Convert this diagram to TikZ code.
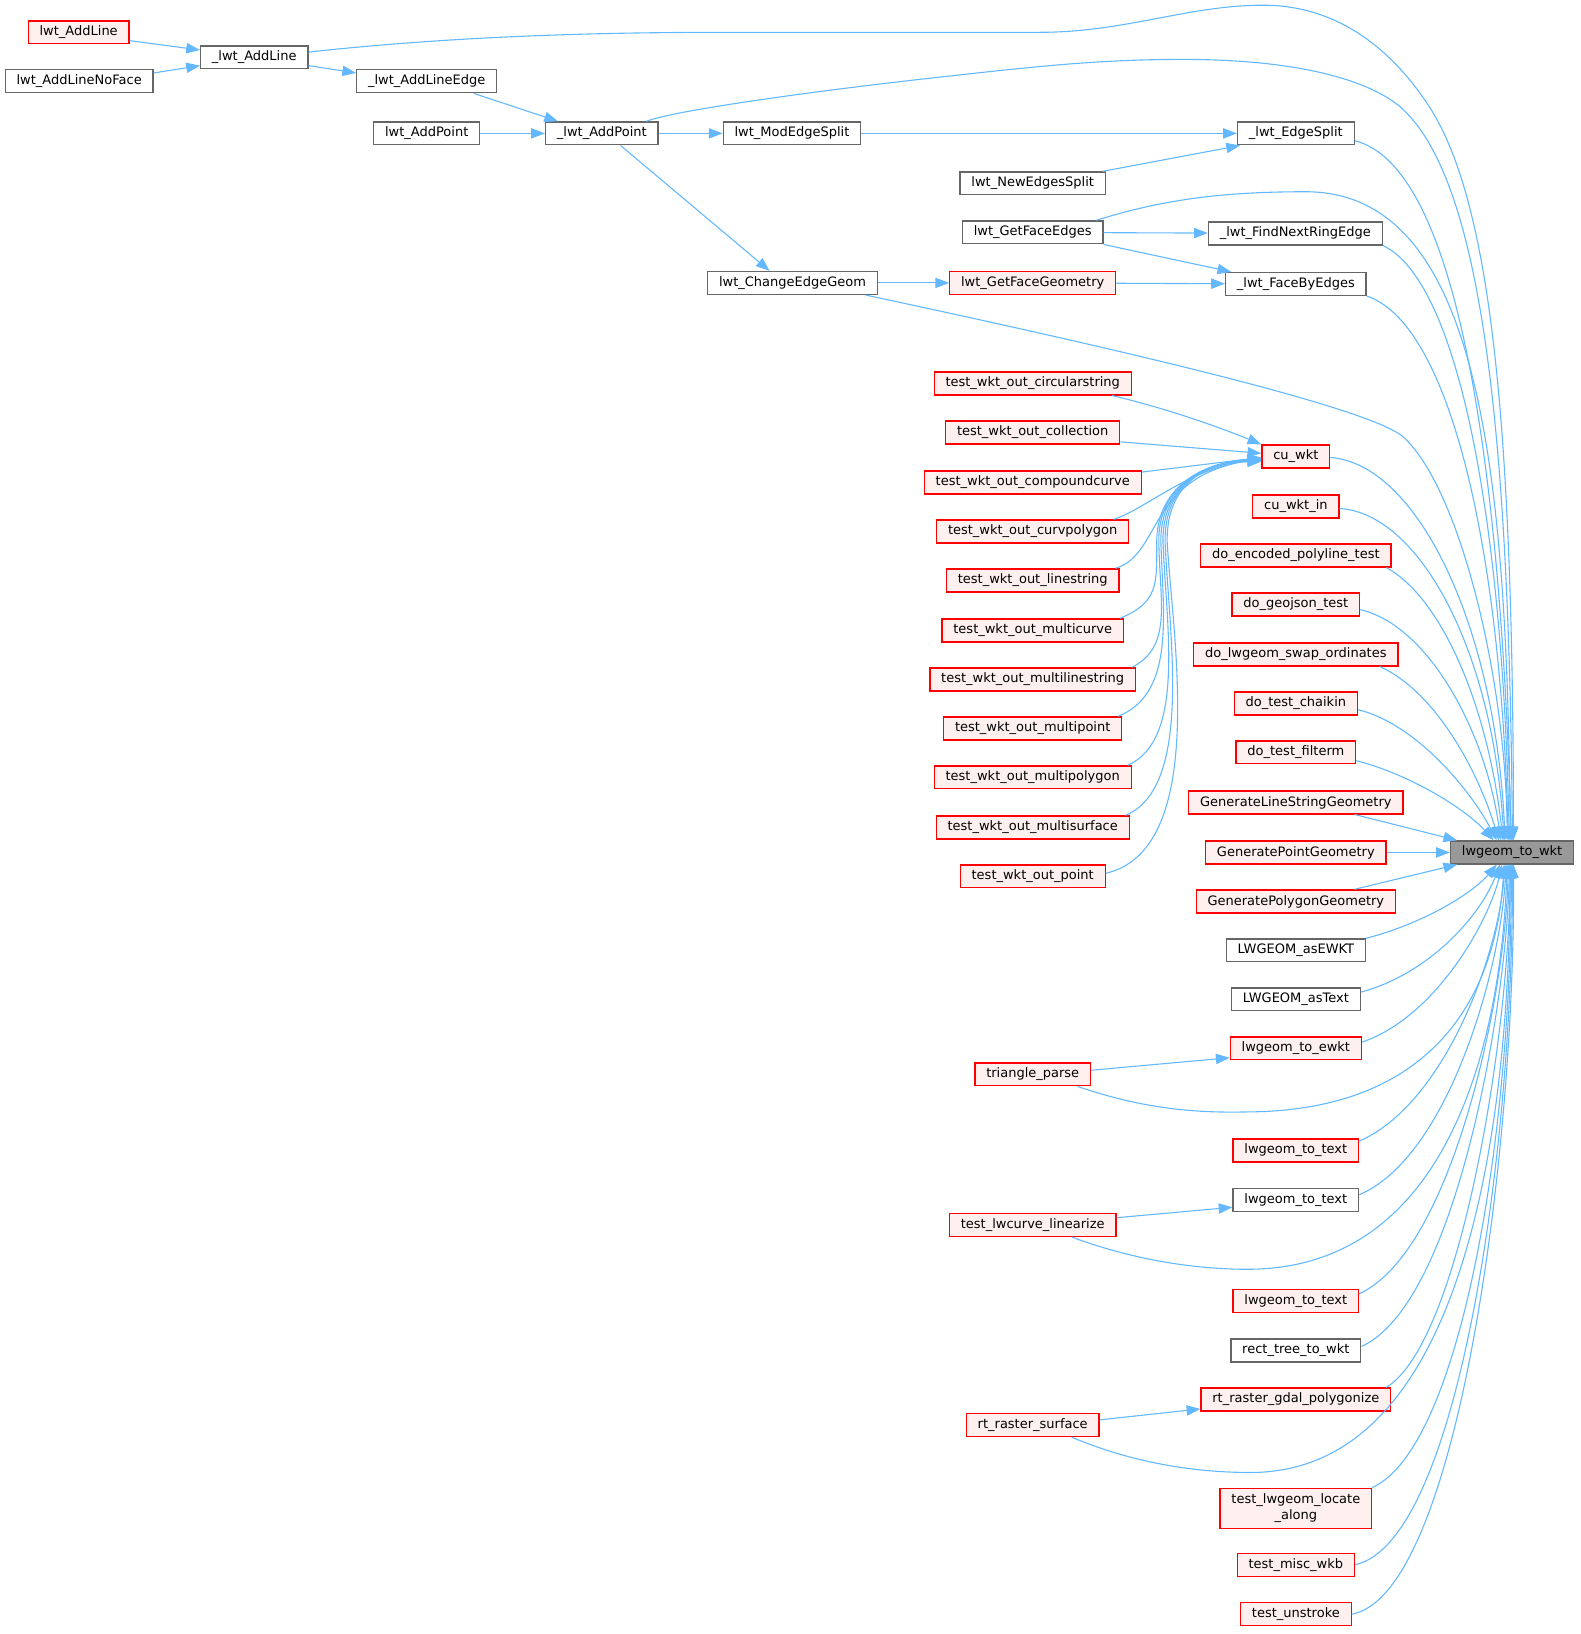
\documentclass[tikz,border=0pt]{standalone}
\usepackage{fontspec}
\setmainfont{DejaVu Sans}
\usetikzlibrary{arrows.meta,calc}
\definecolor{edgeblue}{HTML}{63B8FF}
\definecolor{redfill}{HTML}{FFF0F0}
\definecolor{boxgray}{HTML}{666666}
\definecolor{nodegray}{HTML}{999999}

\begin{document}
\begin{tikzpicture}[x=0.02cm,y=-0.02cm,
  fn/.style={rectangle,line width=0.7pt,minimum height=12.5pt,inner xsep=6.2pt,inner ysep=1pt,font=\fontsize{7.1pt}{8.6pt}\selectfont},
  fnred/.style={fn,draw=red,fill=redfill},
  fnblack/.style={fn,draw=boxgray,fill=white},
  fngray/.style={fn,draw=boxgray,fill=nodegray},
  call/.style={draw=edgeblue,line width=0.6pt,-{Triangle[length=7.5pt,width=5.6pt]}}]
\useasboundingbox (0,0) rectangle (1517,1568);

\node[fnred] (addline) at (75.5,31) {lwt\_AddLine};
\node[fnblack] (addlinenoface) at (76,78) {lwt\_AddLineNoFace};
\node[fnblack] (iaddline) at (244,55) {\_lwt\_AddLine};
\node[fnblack] (iaddlineedge) at (409.5,78) {\_lwt\_AddLineEdge};
\node[fnblack] (addpoint) at (409.5,128) {lwt\_AddPoint};
\node[fnblack] (iaddpoint) at (577.5,128) {\_lwt\_AddPoint};
\node[fnblack] (modedgesplit) at (760,128) {lwt\_ModEdgeSplit};
\node[fnblack] (iedgesplit) at (1243.5,128) {\_lwt\_EdgeSplit};
\node[fnblack] (newedgessplit) at (991,176) {lwt\_NewEdgesSplit};
\node[fnblack] (getfaceedges) at (991,223) {lwt\_GetFaceEdges};
\node[fnblack] (ifindnextringedge) at (1243,224) {\_lwt\_FindNextRingEdge};
\node[fnblack] (changeedgegeom) at (760.5,271.5) {lwt\_ChangeEdgeGeom};
\node[fnred] (getfacegeometry) at (991,271.5) {lwt\_GetFaceGeometry};
\node[fnblack] (ifacebyedges) at (1243.5,272.5) {\_lwt\_FaceByEdges};

\node[fnred] (twcircularstring) at (991,368) {test\_wkt\_out\_circularstring};
\node[fnred] (twcollection) at (991,415) {test\_wkt\_out\_collection};
\node[fnred] (twcompoundcurve) at (991,463) {test\_wkt\_out\_compoundcurve};
\node[fnred] (twcurvpolygon) at (991,510) {test\_wkt\_out\_curvpolygon};
\node[fnred] (twlinestring) at (991,557) {test\_wkt\_out\_linestring};
\node[fnred] (twmulticurve) at (991,605) {test\_wkt\_out\_multicurve};
\node[fnred] (twmultilinestring) at (991,652) {test\_wkt\_out\_multilinestring};
\node[fnred] (twmultipoint) at (991,699) {test\_wkt\_out\_multipoint};
\node[fnred] (twmultipolygon) at (991,746) {test\_wkt\_out\_multipolygon};
\node[fnred] (twmultisurface) at (991,794) {test\_wkt\_out\_multisurface};
\node[fnred] (twpoint) at (991,841) {test\_wkt\_out\_point};

\node[fnred] (cuwkt) at (1243.5,438) {cu\_wkt};
\node[fnred] (cuwktin) at (1243.5,486) {cu\_wkt\_in};
\node[fnred] (doencoded) at (1243.5,533) {do\_encoded\_polyline\_test};
\node[fnred] (dogeojson) at (1243.5,580) {do\_geojson\_test};
\node[fnred] (doswap) at (1243.5,628) {do\_lwgeom\_swap\_ordinates};
\node[fnred] (dochaikin) at (1243.5,675) {do\_test\_chaikin};
\node[fnred] (dofilterm) at (1243.5,722) {do\_test\_filterm};
\node[fnred] (genline) at (1243.5,770) {GenerateLineStringGeometry};
\node[fnred] (genpoint) at (1243.5,818) {GeneratePointGeometry};
\node[fnred] (genpoly) at (1243.5,865) {GeneratePolygonGeometry};
\node[fnblack] (asewkt) at (1243.5,912) {LWGEOM\_asEWKT};
\node[fnblack] (astext) at (1243.5,959) {LWGEOM\_asText};
\node[fnred] (toewkt) at (1243.5,1006) {lwgeom\_to\_ewkt};
\node[fnred] (triparse) at (991,1031) {triangle\_parse};
\node[fnred] (totexta) at (1243.5,1104) {lwgeom\_to\_text};
\node[fnblack] (totextb) at (1243.5,1151.5) {lwgeom\_to\_text};
\node[fnred] (linearize) at (991,1175.5) {test\_lwcurve\_linearize};
\node[fnred] (totextc) at (1243.5,1248.5) {lwgeom\_to\_text};
\node[fnblack] (recttree) at (1243.5,1296) {rect\_tree\_to\_wkt};
\node[fnred] (gdalpoly) at (1243.5,1343) {rt\_raster\_gdal\_polygonize};
\node[fnred] (rtsurface) at (991,1367.5) {rt\_raster\_surface};
\node[fnred,minimum height=22.1pt,align=center] (locatealong) at (1243.5,1447.5) {test\_lwgeom\_locate\\\_along};
\node[fnred] (miscwkb) at (1243.5,1501.5) {test\_misc\_wkb};
\node[fnred] (unstroke) at (1243.5,1549) {test\_unstroke};

\node[fngray] (towkt) at (1451,818) {lwgeom\_to\_wkt};

\draw[call] ($(addline.east)+(0,8)$) -- ($(iaddline.west)+(0,-7)$);
\draw[call] ($(addlinenoface.east)+(0,-8)$) -- ($(iaddline.west)+(0,8)$);
\draw[call] ($(iaddline.east)+(0,8)$) -- ($(iaddlineedge.west)+(0,-8)$);
\draw[call] ($(iaddlineedge.south)+(45,0)$) -- ($(iaddpoint.north)+(-42,0)$);
\draw[call] (addpoint) -- (iaddpoint);
\draw[call] (iaddpoint) -- (modedgesplit);
\draw[call] ($(iaddpoint.south)+(18,0)$) -- ($(changeedgegeom.north)+(-22,0)$);
\draw[call] (modedgesplit) -- (iedgesplit);
\draw[call] ($(newedgessplit.north east)+(-3,0)$) -- ($(iedgesplit.south west)+(3,0)$);
\draw[call] (getfaceedges) -- (ifindnextringedge);
\draw[call] (getfaceedges.south east) -- ($(ifacebyedges.north west)+(6,0)$);
\draw[call] (changeedgegeom) -- (getfacegeometry);
\draw[call] (getfacegeometry) -- (ifacebyedges);

\draw[call] ($(twcircularstring.south east)+(-19,0)$) .. controls (1120,392) and (1170,410) .. (cuwkt.north west);
\draw[call] ($(twcollection.east)+(0,9)$) -- ($(cuwkt.west)+(0,-3)$);
\draw[call] ($(twcompoundcurve.east)+(0,-10)$) -- ($(cuwkt.west)+(0,1)$);
\draw[call] ($(twcurvpolygon.north east)+(-15,0)$) .. controls (1100,488) and (1140,450) .. ($(cuwkt.west)+(0,2)$);
\draw[call] ($(twlinestring.north east)+(-4,0)$) .. controls (1115,532) and (1100,458) .. ($(cuwkt.west)+(0,2)$);
\draw[call] ($(twmulticurve.north east)+(-4,0)$) .. controls (1112,578) and (1110,560) .. (1110,520) .. controls (1110,470) and (1150,444) .. ($(cuwkt.west)+(0,2)$);
\draw[call] ($(twmultilinestring.north east)+(-4,0)$) .. controls (1125,620) and (1113,580) .. (1112,520) .. controls (1111,470) and (1150,444) .. ($(cuwkt.west)+(0,3)$);
\draw[call] ($(twmultipoint.north east)+(-4,0)$) .. controls (1128,665) and (1116,590) .. (1114,520) .. controls (1113,470) and (1150,444) .. ($(cuwkt.west)+(0,3)$);
\draw[call] ($(twmultipolygon.north east)+(-4,0)$) .. controls (1138,710) and (1119,600) .. (1116,520) .. controls (1115,470) and (1150,444) .. ($(cuwkt.west)+(0,4)$);
\draw[call] ($(twmultisurface.north east)+(-4,0)$) .. controls (1145,755) and (1122,610) .. (1118,520) .. controls (1117,470) and (1150,444) .. ($(cuwkt.west)+(0,4)$);
\draw[call] ($(twpoint.east)+(0,-3)$) .. controls (1160,815) and (1125,610) .. (1120,520) .. controls (1119,470) and (1150,444) .. ($(cuwkt.west)+(0,5)$);

\draw[call] ($(iaddline.east)+(0,-5)$) .. controls (450,33) and (600,31) .. (700,31) -- (998,31) .. controls (1080,31) and (1140,5) .. (1212,5) .. controls (1290,5) and (1340,55) .. (1370,100) .. controls (1430,190) and (1452,400) .. ($(towkt.north west)+(61,0)$);
\draw[call] ($(iaddpoint.north east)+(-12,0)$) .. controls (650,105) and (800,85) .. (911,73) .. controls (1000,63) and (1060,57) .. (1135,57) .. controls (1240,57) and (1310,75) .. (1343,102) .. controls (1420,168) and (1448,400) .. ($(towkt.north west)+(60,0)$);
\draw[call] ($(iedgesplit.east)+(0,7)$) .. controls (1400,160) and (1440,450) .. ($(towkt.north west)+(59,0)$);
\draw[call] ($(getfaceedges.north east)+(-7,0)$) .. controls (1120,190) and (1180,184) .. (1253,184) .. controls (1420,184) and (1446,450) .. ($(towkt.north west)+(58,0)$);
\draw[call] (ifindnextringedge.south east) .. controls (1400,270) and (1442,500) .. ($(towkt.north west)+(57,0)$);
\draw[call] (ifacebyedges.south east) .. controls (1390,310) and (1440,520) .. ($(towkt.north west)+(56,0)$);
\draw[call] ($(changeedgegeom.south east)+(-12,0)$) .. controls (1050,330) and (1305,388) .. (1345,418) .. controls (1400,465) and (1445,650) .. ($(towkt.north west)+(55,0)$);
\draw[call] ($(cuwkt.east)+(0,1)$) .. controls (1360,445) and (1435,600) .. ($(towkt.north west)+(53,0)$);
\draw[call] ($(cuwktin.east)+(0,2)$) .. controls (1360,492) and (1432,620) .. ($(towkt.north west)+(52,0)$);
\draw[call] ($(doencoded.south east)+(-5,0)$) .. controls (1385,575) and (1428,680) .. ($(towkt.north west)+(51,0)$);
\draw[call] ($(dogeojson.east)+(0,5)$) .. controls (1370,600) and (1425,700) .. ($(towkt.north west)+(49,0)$);
\draw[call] ($(doswap.south east)+(-18,0)$) .. controls (1380,665) and (1420,745) .. ($(towkt.north west)+(47,0)$);
\draw[call] ($(dochaikin.east)+(0,6)$) .. controls (1360,695) and (1412,760) .. ($(towkt.north west)+(45,0)$);
\draw[call] ($(dofilterm.east)+(0,8)$) .. controls (1350,742) and (1405,775) .. ($(towkt.north west)+(42,0)$);
\draw[call] ($(genline.south east)+(-47,0)$) -- ($(towkt.north west)+(7,0)$);
\draw[call] (genpoint) -- (towkt);
\draw[call] ($(genpoly.north east)+(-40,0)$) -- ($(towkt.south west)+(7,0)$);

\draw[call] (asewkt.north east) .. controls (1370,885) and (1415,855) .. ($(towkt.south west)+(45,0)$);
\draw[call] ($(astext.east)+(0,-7)$) .. controls (1370,935) and (1420,880) .. ($(towkt.south west)+(48,0)$);
\draw[call] ($(toewkt.east)+(0,-6)$) .. controls (1380,975) and (1430,880) .. ($(towkt.south west)+(50,0)$);
\draw[call] ($(triparse.east)+(0,-4)$) -- ($(toewkt.west)+(0,9)$);
\draw[call] ($(triparse.south east)+(-13,0)$) .. controls (1100,1065) and (1150,1068) .. (1197,1067) .. controls (1380,1066) and (1436,950) .. ($(towkt.south west)+(52,0)$);
\draw[call] ($(totexta.east)+(0,-9)$) .. controls (1385,1060) and (1437,920) .. ($(towkt.south west)+(53,0)$);
\draw[call] ($(totextb.east)+(0,-5)$) .. controls (1390,1110) and (1440,930) .. ($(towkt.south west)+(54,0)$);
\draw[call] ($(linearize.east)+(0,-7)$) -- ($(totextb.west)+(0,7)$);
\draw[call] ($(linearize.south east)+(-43,0)$) .. controls (1090,1210) and (1150,1218) .. (1197,1218) .. controls (1390,1218) and (1440,1000) .. ($(towkt.south west)+(55,0)$);
\draw[call] ($(totextc.east)+(0,-7)$) .. controls (1395,1200) and (1445,950) .. ($(towkt.south west)+(56,0)$);
\draw[call] ($(recttree.east)+(0,-4)$) .. controls (1400,1250) and (1447,950) .. ($(towkt.south west)+(57,0)$);
\draw[call] ($(gdalpoly.north east)+(-5,0)$) .. controls (1400,1290) and (1448,1000) .. ($(towkt.south west)+(58,0)$);
\draw[call] ($(rtsurface.east)+(0,-5)$) -- ($(gdalpoly.west)+(0,9)$);
\draw[call] ($(rtsurface.south east)+(-27,0)$) .. controls (1090,1405) and (1150,1413) .. (1200,1413) .. controls (1400,1413) and (1448,1100) .. ($(towkt.south west)+(58,0)$);
\draw[call] (locatealong.north east) .. controls (1400,1390) and (1450,1100) .. ($(towkt.south west)+(59,0)$);
\draw[call] (miscwkb.east) .. controls (1400,1480) and (1452,1100) .. ($(towkt.south west)+(60,0)$);
\draw[call] (unstroke.east) .. controls (1400,1530) and (1454,1100) .. ($(towkt.south west)+(61,0)$);
\end{tikzpicture}
\end{document}
